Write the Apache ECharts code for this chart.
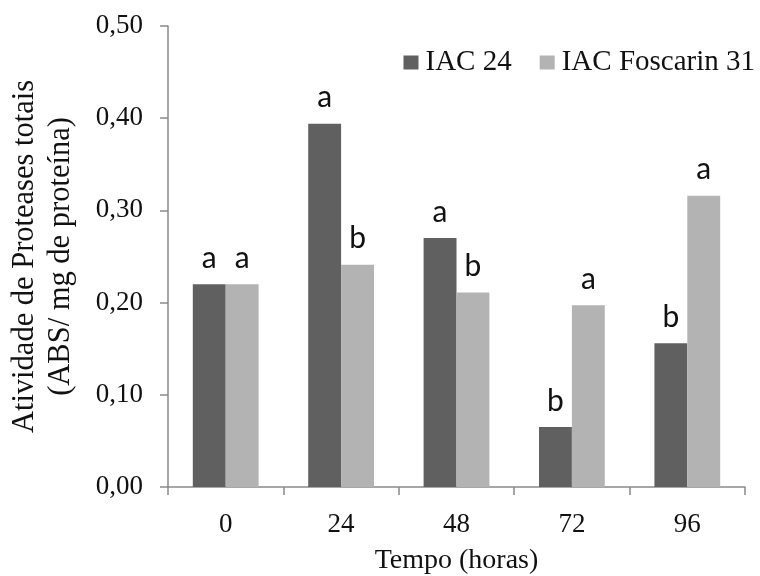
<!DOCTYPE html>
<html>
<head>
<meta charset="utf-8">
<script src="https://cdn.jsdelivr.net/npm/echarts@6/dist/echarts.min.js"></script>
<style>html,body{margin:0;padding:0;background:#fff;}#c{width:760px;height:576px;}</style>
</head>
<body>
<div id="c"></div>
<script>
var categories = ['0', '24', '48', '72', '96'];
var seriesNames = ['IAC 24', 'IAC Foscarin 31'];
var iac24 = [0.220, 0.394, 0.270, 0.065, 0.156];
var foscarin31 = [0.220, 0.241, 0.211, 0.197, 0.316];
var iac24Letters = ['a', 'a', 'a', 'b', 'b'];
var foscarinLetters = ['a', 'b', 'b', 'a', 'a'];
var yTicks = ['0,00', '0,10', '0,20', '0,30', '0,40', '0,50'];

var serif = '"Liberation Serif", "Times New Roman", serif';
var axisColor = '#8a8a8a';

function labelFor(letters) {
  return {
    show: true,
    position: 'top',
    distance: 11,
    fontFamily: 'Lato, "Open Sans", sans-serif',
    fontSize: 30,
    color: '#111',
    formatter: function (p) { return letters[p.dataIndex]; }
  };
}

var chart = echarts.init(document.getElementById('c'), null, {renderer: 'canvas'});
chart.setOption({
  animation: false,
  backgroundColor: '#fff',
  grid: {left: 168, right: 15, top: 26, bottom: 89, containLabel: false, outerBoundsMode: 'none'},
  legend: {
    data: seriesNames,
    right: 0,
    top: 43,
    itemWidth: 15,
    itemHeight: 14,
    itemGap: 28,
    icon: 'rect',
    textStyle: {fontFamily: serif, fontSize: 29, color: '#111', padding: [0, 0, 0, 2]}
  },
  xAxis: {
    type: 'category',
    data: categories,
    name: 'Tempo (horas)',
    nameLocation: 'middle',
    nameGap: 60,
    nameTextStyle: {fontFamily: serif, fontSize: 28, color: '#111'},
    axisLine: {lineStyle: {color: axisColor, width: 1.5}},
    axisTick: {show: true, length: 8, lineStyle: {color: axisColor, width: 1.5}},
    axisLabel: {fontFamily: serif, fontSize: 27, color: '#111', margin: 24}
  },
  yAxis: {
    type: 'value',
    min: 0,
    max: 0.5,
    interval: 0.1,
    name: 'Atividade de Proteases totais\n(ABS/ mg de proteína)',
    nameLocation: 'middle',
    nameGap: 89,
    nameRotate: 90,
    nameTextStyle: {fontFamily: serif, fontSize: 30.5, color: '#111', lineHeight: 36},
    axisLine: {show: true, lineStyle: {color: axisColor, width: 1.5}},
    axisTick: {show: true, length: 8, lineStyle: {color: axisColor, width: 1.5}},
    splitLine: {show: false},
    axisLabel: {
      fontFamily: serif, fontSize: 27, color: '#111', margin: 25,
      formatter: function (v) { return yTicks[Math.round(v * 10)]; }
    }
  },
  series: [
    {
      name: seriesNames[0],
      type: 'bar',
      data: iac24,
      barGap: '0%',
      barCategoryGap: '43%',
      itemStyle: {color: '#606060'},
      label: labelFor(iac24Letters)
    },
    {
      name: seriesNames[1],
      type: 'bar',
      data: foscarin31,
      barGap: '0%',
      barCategoryGap: '43%',
      itemStyle: {color: '#b3b3b3'},
      label: labelFor(foscarinLetters)
    }
  ]
});
</script>
</body>
</html>
